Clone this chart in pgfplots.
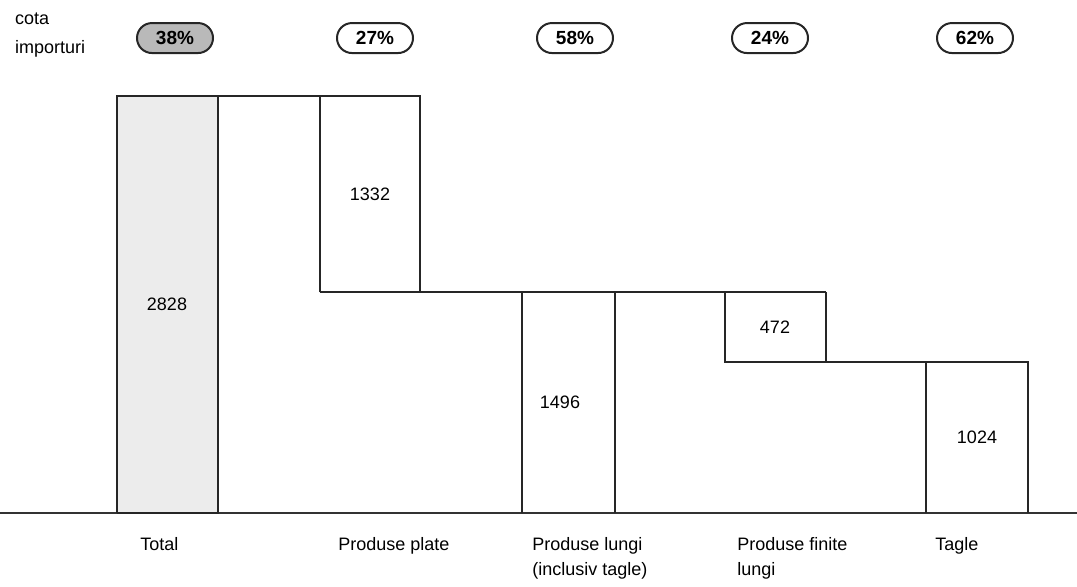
\documentclass[border=0pt]{standalone}
\usepackage{fontspec}
\setmainfont{Liberation Sans}
\usepackage{pgfplots}
\pgfplotsset{compat=1.18}
\usetikzlibrary{shapes.misc}

\begin{document}
\begin{tikzpicture}
\begin{axis}[
    scale only axis,
    width=538.5pt, height=293.5pt,
    xmin=0, xmax=1077,
    ymin=-502, ymax=3479,
    axis x line=middle,
    axis y line=none,
    axis line style={-, line width=1.1pt, black!80},
    major tick length=0pt,
    xtick={140,338,532,737,935},
    xticklabels={Total, Produse plate, Produse lungi\\(inclusiv tagle), Produse finite\\lungi, Tagle},
    xticklabel style={anchor=north west, yshift=-12pt, inner sep=0pt, align=left,
        font=\fontsize{9}{12.5}\selectfont},
    clip=false,
    wf/.style={black!85, solid, mark=none, line width=1.1pt},
]
% Total
\addplot[wf, fill=gray!15] coordinates {(117,0) (117,2828) (218,2828) (218,0) (117,0)};
% outline between total and plate
\addplot[wf] coordinates {(218,0) (218,2828) (320,2828)};
% Produse plate (floating, 1496 -> 2828)
\addplot[wf] coordinates {(320,1496) (320,2828) (420,2828) (420,1496) (320,1496)};
% connector at 1496
\addplot[wf] coordinates {(420,1496) (826,1496)};
% Produse lungi
\addplot[wf] coordinates {(522,0) (522,1496) (615,1496) (615,0)};
% Produse finite lungi (floating, 1024 -> 1496)
\addplot[wf] coordinates {(725,1496) (725,1024) (826,1024) (826,1496)};
% connector at 1024
\addplot[wf] coordinates {(826,1024) (1028,1024)};
% Tagle
\addplot[wf] coordinates {(926,0) (926,1024) (1028,1024) (1028,0)};

% values
\begin{scope}[font=\fontsize{9}{11}\selectfont]
\node at (axis cs:167,1414) {2828};
\node at (axis cs:370,2162) {1332};
\node at (axis cs:560,748) {1496};
\node at (axis cs:775,1260) {472};
\node at (axis cs:977,512) {1024};
\end{scope}

% share of imports
\node[anchor=base west, font=\fontsize{9}{11}\selectfont] at (axis cs:8,3316) {cota};
\node[anchor=base west, font=\fontsize{9}{11}\selectfont] at (axis cs:8,3113) {importuri};
\begin{scope}[every node/.style={rounded rectangle, draw=black!85, line width=1pt,
    minimum width=40pt, minimum height=15pt, inner sep=1pt,
    font=\bfseries\fontsize{9.5}{11}\selectfont}]
\node[fill=gray!55] at (axis cs:175,3221) {38\%};
\node[fill=white] at (axis cs:375,3221) {27\%};
\node[fill=white] at (axis cs:575,3221) {58\%};
\node[fill=white] at (axis cs:770,3221) {24\%};
\node[fill=white] at (axis cs:975,3221) {62\%};
\end{scope}
\end{axis}
\pgfresetboundingbox
\path (current axis.south west) rectangle (current axis.north east);
\end{tikzpicture}
\end{document}
